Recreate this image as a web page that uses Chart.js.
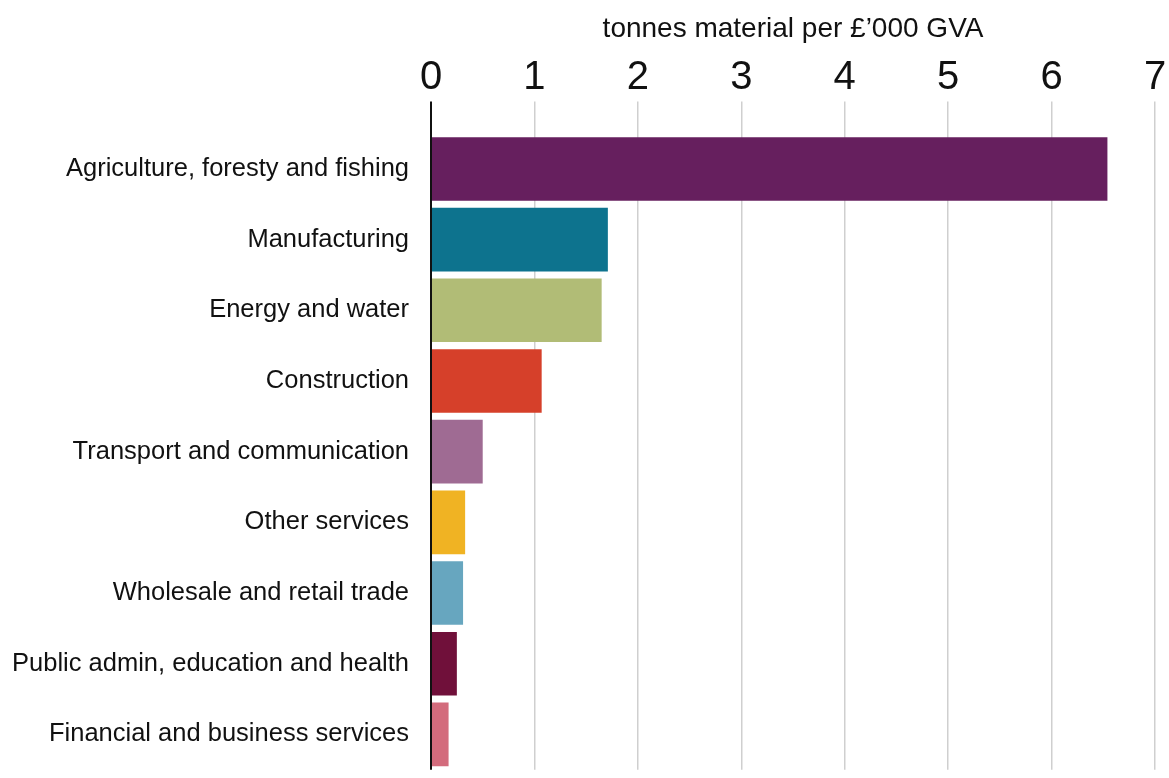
<!DOCTYPE html>
<html>
<head>
<meta charset="utf-8">
<script src="https://cdn.jsdelivr.net/npm/chart.js@4.4.1/dist/chart.umd.min.js"></script>
<style>
  html, body { margin: 0; padding: 0; background: #fff; overflow: hidden; }
  #wrap { width: 1169px; height: 799px; }
</style>
</head>
<body>
<div id="wrap"><canvas id="myChart"></canvas></div>
<script>
const sectores = [
  "Agriculture, foresty and fishing",
  "Manufacturing",
  "Energy and water",
  "Construction",
  "Transport and communication",
  "Other services",
  "Wholesale and retail trade",
  "Public admin, education and health",
  "Financial and business services"
];
const valores = [6.54, 1.71, 1.65, 1.07, 0.50, 0.33, 0.31, 0.25, 0.17];
const colores = [
  "#661f5e", "#0d738e", "#b1bc76", "#d6402a", "#9f6b93",
  "#f0b323", "#67a6bf", "#70103a", "#d36b7c"
];
const ticksX = [0, 1, 2, 3, 4, 5, 6, 7];
const tituloEje = "tonnes material per £\u2019000 GVA";

const config = {
  type: "bar",
  data: {
    labels: sectores,
    datasets: [{
      data: valores,
      backgroundColor: colores,
      borderWidth: 0,
      barPercentage: 0.9,
      categoryPercentage: 1
    }]
  },
  options: {
    indexAxis: "y",
    responsive: true,
    maintainAspectRatio: false,
    animation: false,
    layout: { padding: { left: 0, right: 14, top: 12, bottom: 0 } },
    plugins: { legend: { display: false }, tooltip: { enabled: false } },
    scales: {
      x: {
        position: "top",
        min: 0,
        max: 7,
        afterBuildTicks: axis => { axis.ticks = ticksX.map(v => ({ value: v })); },
        grid: {
          color: ctx => (ctx.tick && ctx.tick.value === 0 ? "#111" : "#cfcfcf"),
          lineWidth: ctx => (ctx.tick && ctx.tick.value === 0 ? 2 : 1.5),
          drawTicks: true,
          tickLength: 32
        },
        border: { display: false },
        ticks: {
          color: "#111",
          padding: 0,
          font: { family: "'Liberation Sans', Arial", size: 40 }
        },
        title: {
          display: true,
          text: tituloEje,
          color: "#111",
          padding: { top: 0, bottom: 8 },
          font: { family: "'Liberation Sans', Arial", size: 28 }
        }
      },
      y: {
        grid: { display: false },
        border: { display: false },
        afterFit: axis => { axis.width = 431; },
        ticks: {
          color: "#111",
          padding: 14,
          font: { family: "'Liberation Sans', Arial", size: 25.5 }
        }
      }
    }
  }
};

new Chart(document.getElementById("myChart"), config);
</script>
</body>
</html>
